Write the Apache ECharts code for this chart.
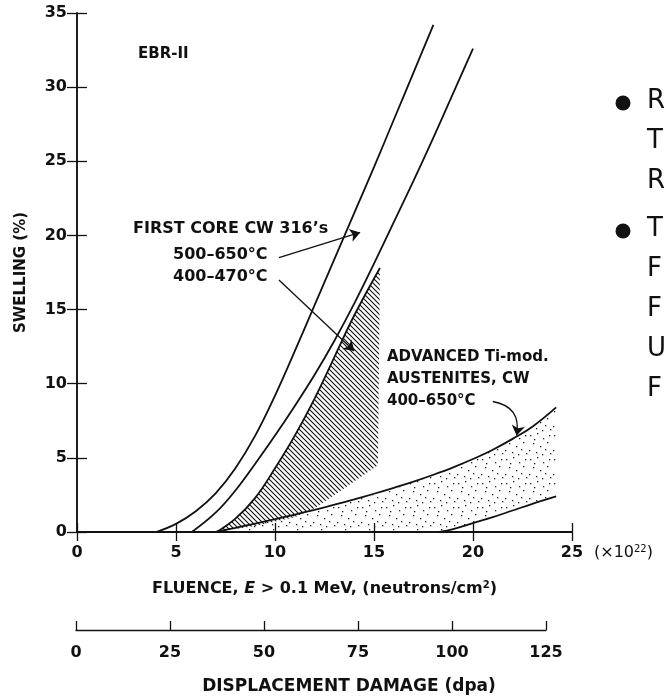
<!DOCTYPE html>
<html>
<head>
<meta charset="utf-8">
<title>EBR-II swelling vs fluence</title>
<script src="https://cdn.jsdelivr.net/npm/echarts@6/dist/echarts.min.js"></script>
<style>
  html, body { margin: 0; padding: 0; background: #fff; }
  #chart { width: 666px; height: 699px; }
</style>
</head>
<body>
<div id="chart"></div>
<script>
// axes
const fluenceTicks = [0, 5, 10, 15, 20, 25]        // x 10^22 n/cm2
const swellingTicks = [0, 5, 10, 15, 20, 25, 30, 35] // %
const dpaTicks = [0, 25, 50, 75, 100, 125]

// first core CW 316's, 500-650 C (outer pair of curves)
const core316aX = [4, 5, 6, 7, 8, 9, 10, 11, 12, 13, 14, 15, 16, 17, 18]
const core316aY = [0, 0.55, 1.4, 2.6, 4.3, 6.5, 9.2, 12.2, 15.3, 18.4, 21.5, 24.6, 27.8, 31.0, 34.2]
const core316bX = [5.8, 7, 8, 9, 10, 11, 12, 13, 14, 15, 16, 17, 18, 19, 20]
const core316bY = [0, 1.3, 2.8, 4.6, 6.5, 8.5, 10.6, 12.9, 15.4, 18.1, 20.9, 23.7, 26.6, 29.6, 32.6]

// 400-470 C hatched band
const hatchTopX = [7.05, 8, 9, 10, 11, 12, 13, 14, 15.3]
const hatchTopY = [0, 0.9, 2.3, 4.3, 6.5, 9.0, 11.8, 14.6, 17.8]
const hatchLowX = [7.2, 8, 9, 10, 11, 12, 13, 14, 15.2]
const hatchLowY = [0, 0.2, 0.4, 0.7, 1.0, 1.6, 2.5, 3.4, 4.5]

// advanced Ti-mod austenites, CW, 400-650 C
const tiUpperX = [7, 8, 9, 10, 11, 12, 13, 14, 15, 16, 17, 18, 19, 20, 21, 22, 23, 24.2]
const tiUpperY = [0, 0.28, 0.57, 0.87, 1.18, 1.5, 1.84, 2.2, 2.58, 2.98, 3.4, 3.86, 4.36, 4.92, 5.55, 6.28, 7.1, 8.4]
const tiLowerX = [7, 18.3, 19, 20, 21, 22, 23, 24.2]
const tiLowerY = [0, 0, 0.2, 0.6, 1.0, 1.45, 1.9, 2.4]

// leader arrows: [from, to, curveness] in data units
const leaders = [
  [[10.2, 18.5], [14.3, 20.2], 0],
  [[10.2, 17.0], [14.0, 12.2], 0],
  [[21.0, 8.8], [22.2, 6.5], 0.5]
]

const pairs = (xs, ys) => xs.map((x, i) => [x, ys[i]])

function hatchPattern() {
  const c = document.createElement('canvas')
  c.width = 5; c.height = 5
  const g = c.getContext('2d')
  g.strokeStyle = '#111'
  g.lineWidth = 1.1
  g.beginPath()
  g.moveTo(-1, -1); g.lineTo(6, 6)
  g.moveTo(-1, 4); g.lineTo(1, 6)
  g.moveTo(4, -1); g.lineTo(6, 1)
  g.stroke()
  return c
}

function stipplePattern() {
  const c = document.createElement('canvas')
  c.width = 24; c.height = 24
  const g = c.getContext('2d')
  g.fillStyle = '#222'
  const spots = [[2, 3], [9, 1], [15, 6], [5, 11], [12, 14], [19, 10], [1, 18], [8, 20], [17, 17], [21, 3], [14, 22], [6, 7], [22, 21]]
  spots.forEach(p => g.fillRect(p[0], p[1], 1.3, 1.3))
  return c
}

// closed band: upper edge left->right, lower edge right->left
function band(upX, upY, loX, loY, img) {
  return function (params, api) {
    const pts = []
    upX.forEach((x, i) => pts.push(api.coord([x, upY[i]])))
    for (let i = loX.length - 1; i >= 0; i--) pts.push(api.coord([loX[i], loY[i]]))
    return {
      type: 'polygon',
      shape: { points: pts },
      style: { fill: { image: img, repeat: 'repeat' }, stroke: null }
    }
  }
}

const chart = echarts.init(document.getElementById('chart'))

const FONT = 'DejaVu Sans'
const ink = '#111'
const tickLabel = { color: ink, fontFamily: FONT, fontWeight: 'bold', fontSize: 16 }
const curve = (name, data) => ({
  name, type: 'line', data, smooth: 0.4, symbol: 'none',
  lineStyle: { color: ink, width: 1.8 }, z: 5
})

const option = {
  backgroundColor: '#fff',
  animation: false,
  grid: [
    { left: 77, right: 94, top: 13, bottom: 167 },
    { left: 76, right: 120, top: 600, height: 30 }
  ],
  xAxis: [
    {
      type: 'value', gridIndex: 0,
      min: fluenceTicks[0], max: fluenceTicks[fluenceTicks.length - 1], interval: fluenceTicks[1] - fluenceTicks[0],
      axisLine: { lineStyle: { color: ink, width: 1.5 } },
      axisTick: { inside: true, length: 9, lineStyle: { color: ink, width: 1.3 } },
      axisLabel: Object.assign({ margin: 13 }, tickLabel),
      splitLine: { show: false },
      name: 'FLUENCE, {i|E} > 0.1 MeV, (neutrons/cm{sup|2})',
      nameLocation: 'middle', nameGap: 48,
      nameTextStyle: {
        color: ink, fontFamily: FONT, fontWeight: 'bold', fontSize: 16,
        rich: {
          i: { fontFamily: FONT, fontWeight: 'bold', fontStyle: 'italic', fontSize: 16, color: ink },
          sup: { fontFamily: FONT, fontWeight: 'bold', fontSize: 10, color: ink, verticalAlign: 'top', padding: [0, 0, 8, 0] }
        }
      }
    },
    {
      type: 'value', gridIndex: 0, position: 'top',
      min: fluenceTicks[0], max: fluenceTicks[fluenceTicks.length - 1], interval: fluenceTicks[1] - fluenceTicks[0],
      axisLine: { lineStyle: { color: ink, width: 2 } },
      axisTick: { inside: true, length: 9, lineStyle: { color: ink, width: 1.3 } },
      axisLabel: { show: false },
      splitLine: { show: false }
    },
    {
      type: 'value', gridIndex: 1,
      min: dpaTicks[0], max: dpaTicks[dpaTicks.length - 1], interval: dpaTicks[1] - dpaTicks[0],
      axisLine: { lineStyle: { color: ink, width: 1.3 } },
      axisTick: { inside: true, length: 9, lineStyle: { color: ink, width: 1.3 } },
      axisLabel: Object.assign({ margin: 15 }, tickLabel),
      splitLine: { show: false },
      name: 'DISPLACEMENT DAMAGE (dpa)',
      nameLocation: 'middle', nameGap: 48,
      nameTextStyle: { color: ink, fontFamily: FONT, fontWeight: 'bold', fontSize: 17, padding: [0, 0, 0, 76] }
    }
  ],
  yAxis: [
    {
      type: 'value', gridIndex: 0,
      min: swellingTicks[0], max: swellingTicks[swellingTicks.length - 1], interval: swellingTicks[1] - swellingTicks[0],
      axisLine: { lineStyle: { color: ink, width: 1.5 } },
      axisTick: { inside: true, length: 10, lineStyle: { color: ink, width: 1.3 } },
      axisLabel: Object.assign({ margin: 10 }, tickLabel),
      splitLine: { show: false },
      name: 'SWELLING (%)',
      nameLocation: 'middle', nameGap: 48,
      nameTextStyle: { color: ink, fontFamily: FONT, fontWeight: 'bold', fontSize: 15 }
    },
    {
      type: 'value', gridIndex: 0, position: 'right',
      min: swellingTicks[0], max: swellingTicks[swellingTicks.length - 1], interval: swellingTicks[1] - swellingTicks[0],
      axisLine: { lineStyle: { color: ink, width: 1.5 } },
      axisTick: { inside: true, length: 10, lineStyle: { color: ink, width: 1.3 } },
      axisLabel: { show: false },
      splitLine: { show: false }
    },
    { type: 'value', gridIndex: 1, min: 0, max: 1, show: false }
  ],
  series: [
    {
      name: '400-470 C band', type: 'custom', xAxisIndex: 0, yAxisIndex: 0,
      renderItem: band(hatchTopX, hatchTopY, hatchLowX, hatchLowY, hatchPattern()),
      data: [[0, 0]], z: 2, silent: true
    },
    {
      name: 'Ti-mod band', type: 'custom', xAxisIndex: 0, yAxisIndex: 0,
      renderItem: band(tiUpperX, tiUpperY, tiLowerX, tiLowerY, stipplePattern()),
      data: [[0, 0]], z: 1, silent: true
    },
    curve('CW 316 500-650 C upper', pairs(core316aX, core316aY)),
    curve('CW 316 500-650 C lower', pairs(core316bX, core316bY)),
    curve('CW 316 400-470 C', pairs(hatchTopX, hatchTopY)),
    curve('Ti-mod upper', pairs(tiUpperX, tiUpperY)),
    curve('Ti-mod lower', pairs(tiLowerX.slice(1), tiLowerY.slice(1))),
    {
      name: 'leaders', type: 'lines', coordinateSystem: 'cartesian2d',
      symbol: ['none', 'arrow'], symbolSize: 10,
      lineStyle: { color: ink, width: 1.3, opacity: 1 },
      data: leaders.map(l => ({ coords: [l[0], l[1]], lineStyle: { curveness: l[2] } })),
      z: 6, silent: true
    }
  ],
  graphic: [
    { type: 'text', left: 138, top: 47, style: { text: 'EBR-II', fill: ink, font: 'bold 15px "DejaVu Sans"' } },
    { type: 'text', left: 133, top: 221, style: { text: 'FIRST CORE CW 316\u2019s', fill: ink, font: 'bold 16px "DejaVu Sans"' } },
    { type: 'text', left: 173, top: 247, style: { text: '500\u2013650\u00b0C', fill: ink, font: 'bold 16px "DejaVu Sans"' } },
    { type: 'text', left: 173, top: 269, style: { text: '400\u2013470\u00b0C', fill: ink, font: 'bold 16px "DejaVu Sans"' } },
    { type: 'text', left: 387, top: 350, style: { text: 'ADVANCED Ti-mod.', fill: ink, font: 'bold 15px "DejaVu Sans"' } },
    { type: 'text', left: 387, top: 372, style: { text: 'AUSTENITES, CW', fill: ink, font: 'bold 15px "DejaVu Sans"' } },
    { type: 'text', left: 387, top: 394, style: { text: '400\u2013650\u00b0C', fill: ink, font: 'bold 15px "DejaVu Sans"' } },
    {
      type: 'text', left: 594, top: 544,
      style: {
        text: '(\u00d710{sup|22})', fill: ink, font: '16px "DejaVu Sans"',
        rich: { sup: { fontSize: 10, fontFamily: FONT, fill: ink, verticalAlign: 'top', padding: [0, 0, 8, 0] } }
      }
    },
    { type: 'circle', shape: { cx: 623, cy: 103, r: 7.5 }, style: { fill: ink } },
    { type: 'circle', shape: { cx: 623, cy: 231, r: 7.5 }, style: { fill: ink } },
    { type: 'text', left: 647, top: 88, style: { text: 'R', fill: ink, font: '26px "DejaVu Sans"' } },
    { type: 'text', left: 647, top: 128, style: { text: 'T', fill: ink, font: '26px "DejaVu Sans"' } },
    { type: 'text', left: 647, top: 168, style: { text: 'R', fill: ink, font: '26px "DejaVu Sans"' } },
    { type: 'text', left: 647, top: 216, style: { text: 'T', fill: ink, font: '26px "DejaVu Sans"' } },
    { type: 'text', left: 647, top: 256, style: { text: 'F', fill: ink, font: '26px "DejaVu Sans"' } },
    { type: 'text', left: 647, top: 296, style: { text: 'F', fill: ink, font: '26px "DejaVu Sans"' } },
    { type: 'text', left: 647, top: 336, style: { text: 'U', fill: ink, font: '26px "DejaVu Sans"' } },
    { type: 'text', left: 647, top: 376, style: { text: 'F', fill: ink, font: '26px "DejaVu Sans"' } }
  ]
}

chart.setOption(option)
window.addEventListener('resize', () => chart.resize())
</script>
</body>
</html>
